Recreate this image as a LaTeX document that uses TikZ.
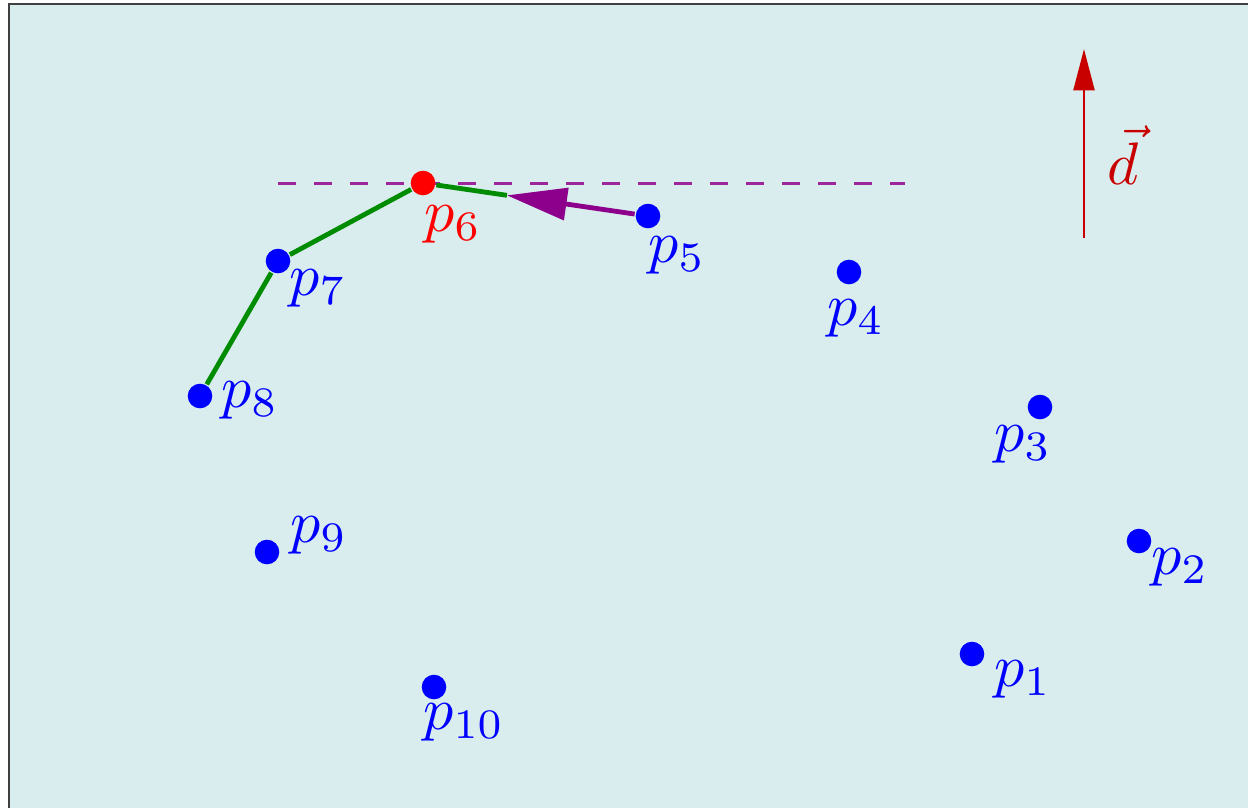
\documentclass[tikz,border=0pt]{standalone}
\usepackage{amsmath}
\usetikzlibrary{arrows.meta,calc}
\definecolor{bgcyan}{RGB}{217,237,238}
\definecolor{hullgreen}{RGB}{0,140,0}
\definecolor{sweep}{RGB}{140,0,140}
\definecolor{dirred}{RGB}{200,0,0}

\begin{document}
\begin{tikzpicture}[x=0.1667pt,y=-0.1667pt,
   pnt/.style={circle,fill=blue,inner sep=0pt,minimum size=4.1pt},
   lbl/.style={text=blue,inner sep=0pt,xshift=0.5pt},
   hull/.style={hullgreen,thick}]
  \useasboundingbox (0,0) rectangle (1248,807);
  \draw[black!75,fill=bgcyan] (9,4) rectangle (1270,830);
  % supporting line
  \coordinate (dl) at (278,183);
  \coordinate (dr) at (905,183);
  \draw[sweep!85,line width=0.5pt,dashed] (dl) -- (dr);
  % points
  \node[pnt] (p1) at (972,654) {};
  \node[pnt] (p2) at (1139,541) {};
  \node[pnt] (p3) at (1040,407) {};
  \node[pnt] (p4) at (849,272) {};
  \node[pnt] (p5) at (648,216) {};
  \node[pnt,fill=red] (p6) at (423,183) {};
  \node[pnt] (p7) at (278,261) {};
  \node[pnt] (p8) at (200,396) {};
  \node[pnt] (p9) at (267,552) {};
  \node[pnt] (p10) at (434,687) {};
  \node[lbl] (l1) at (1020,679) {$p_1$};
  \node[lbl] (l2) at (1177,567) {$p_2$};
  \node[lbl] (l3) at (1020,444) {$p_3$};
  \node[lbl] (l4) at (853,318) {$p_4$};
  \node[lbl] (l5) at (674,255) {$p_5$};
  \node[lbl,text=red] (l6) at (450,224) {$p_6$};
  \node[lbl] (l7) at (315,288) {$p_7$};
  \node[lbl] (l8) at (247,400) {$p_8$};
  \node[lbl] (l9) at (316,535) {$p_9$};
  \node[lbl] (l10) at (461,722) {$p_{10}$};
  % hull so far and next edge
  \coordinate (tip) at ($(p5.center)!0.627!(p6.center)$);
  \draw[hull] (p8) -- (p7) -- (p6) -- (tip);
  \draw[sweep,thick,-{Triangle[length=10pt,width=5.3pt]}] (p5) -- (tip);
  % direction
  \coordinate (dfoot) at (1084,238);
  \coordinate (dhead) at (1084,49);
  \draw[dirred,-{Triangle[length=6.9pt,width=3.5pt]}] (dfoot) -- (dhead);
  \node[lbl,text=dirred] (dlab) at (1120,155) {$\vec{d}$};
\end{tikzpicture}
\end{document}
